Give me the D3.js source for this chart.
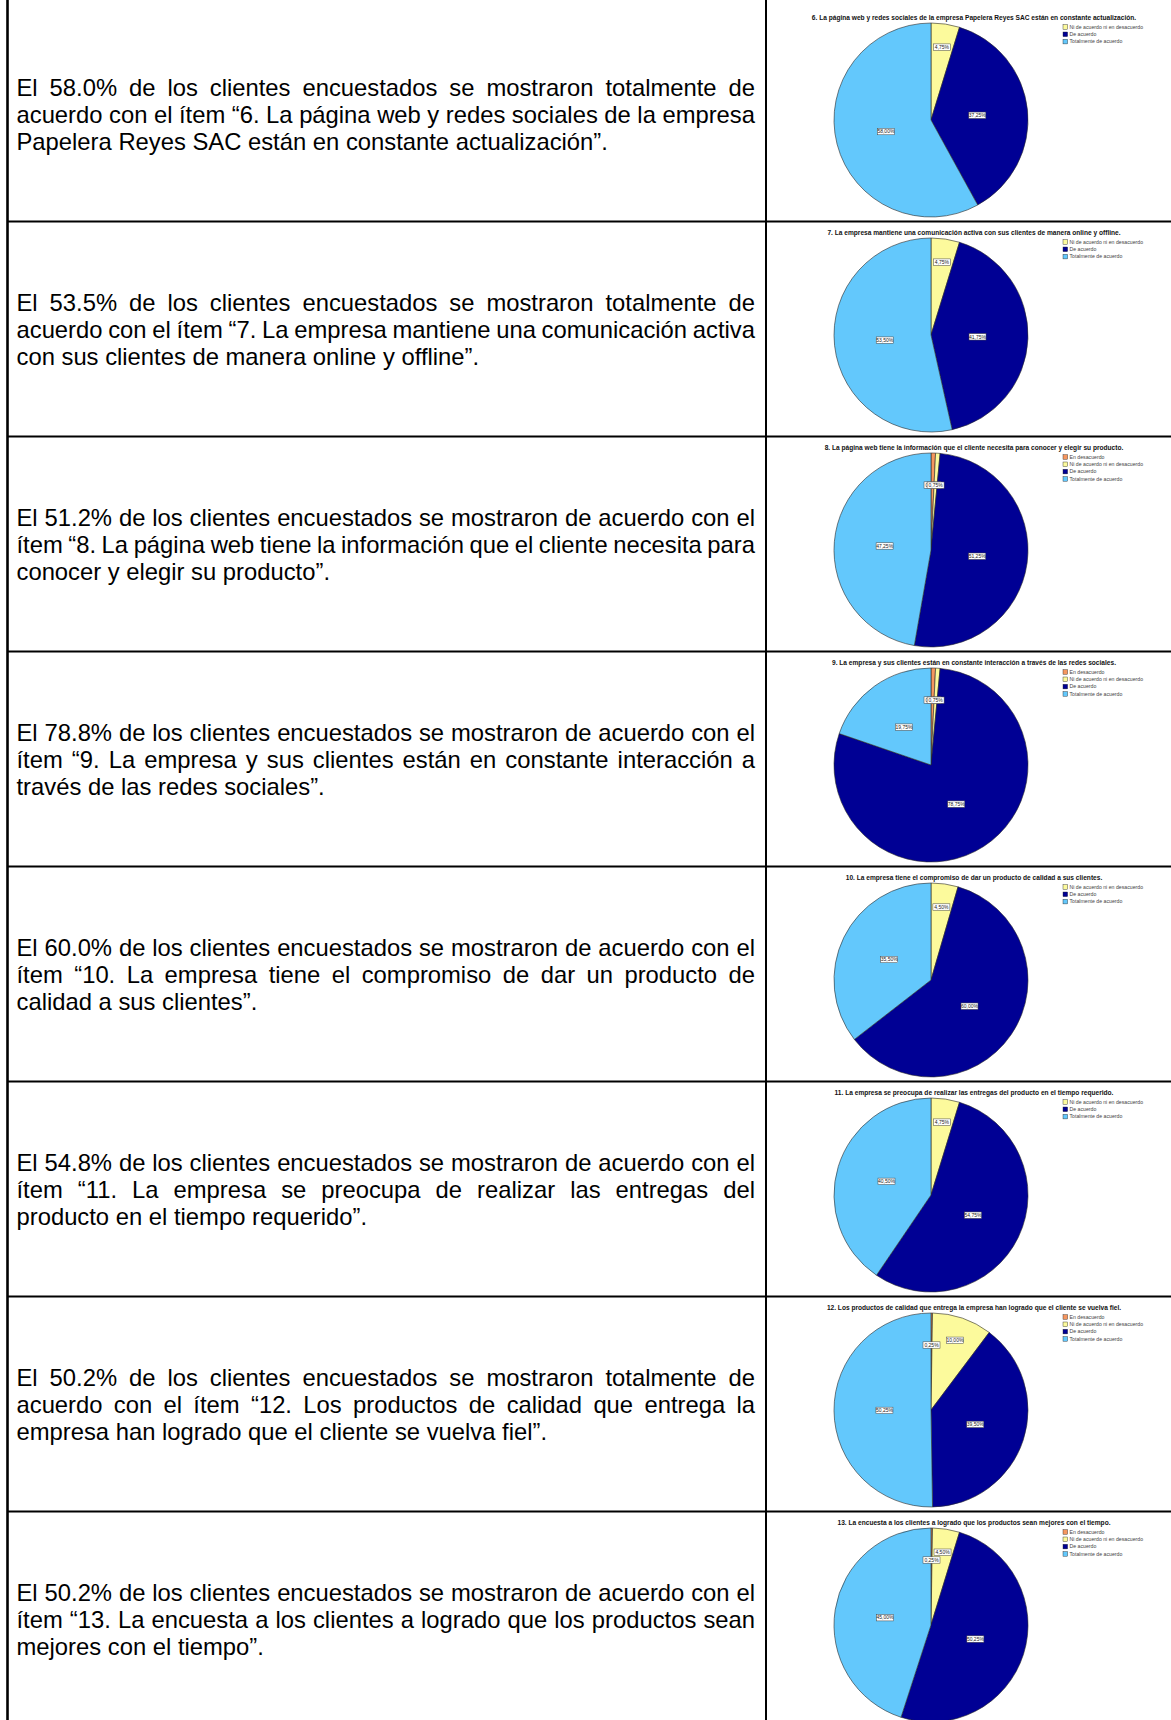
<!DOCTYPE html>
<html>
<head>
<meta charset="utf-8">
<script src="https://cdn.jsdelivr.net/npm/d3@7"></script>
<style>
  html, body { margin: 0; padding: 0; background: #fff; }
  svg { display: block; }
</style>
</head>
<body>
<svg id="page" width="1171" height="1720"></svg>
<script>
// Response categories (legend order = slice order, clockwise from 12 o'clock)
const categories = [
  "En desacuerdo",
  "Ni de acuerdo ni en desacuerdo",
  "De acuerdo",
  "Totalmente de acuerdo"
];

// Chart titles, one per survey item
const itemTitles = [
  "6. La página web y redes sociales de la empresa Papelera Reyes SAC están en constante actualización.",
  "7. La empresa mantiene una comunicación activa con sus clientes de manera online y offline.",
  "8. La página web tiene la información que el cliente necesita para conocer y elegir su producto.",
  "9. La empresa y sus clientes están en constante interacción a través de las redes sociales.",
  "10. La empresa tiene el compromiso de dar un producto de calidad a sus clientes.",
  "11. La empresa se preocupa de realizar las entregas del producto en el tiempo requerido.",
  "12. Los productos de calidad que entrega la empresa han logrado que el cliente se vuelva fiel.",
  "13. La encuesta a los clientes a logrado que los productos sean mejores con el tiempo."
];

// Percentage per category (null = category not chosen by anyone)
const item06 = [null, 4.75, 37.25, 58.00];
const item07 = [null, 4.75, 41.75, 53.50];
const item08 = [0.75, 0.75, 51.25, 47.25];
const item09 = [0.75, 0.75, 78.75, 19.75];
const item10 = [null, 4.50, 60.00, 35.50];
const item11 = [null, 4.75, 54.75, 40.50];
const item12 = [0.25, 10.00, 39.50, 50.25];
const item13 = [0.25, 4.50, 50.25, 45.00];
const itemSeries = [item06, item07, item08, item09, item10, item11, item12, item13];

// Interpretation paragraph for each item, one string per printed line
const paragraphs = [
  ["El 58.0% de los clientes encuestados se mostraron totalmente de",
   "acuerdo con el ítem “6. La página web y redes sociales de la empresa",
   "Papelera Reyes SAC están en constante actualización”."],
  ["El 53.5% de los clientes encuestados se mostraron totalmente de",
   "acuerdo con el ítem “7. La empresa mantiene una comunicación activa",
   "con sus clientes de manera online y offline”."],
  ["El 51.2% de los clientes encuestados se mostraron de acuerdo con el",
   "ítem “8. La página web tiene la información que el cliente necesita para",
   "conocer y elegir su producto”."],
  ["El 78.8% de los clientes encuestados se mostraron de acuerdo con el",
   "ítem “9. La empresa y sus clientes están en constante interacción a",
   "través de las redes sociales”."],
  ["El 60.0% de los clientes encuestados se mostraron de acuerdo con el",
   "ítem “10. La empresa tiene el compromiso de dar un producto de",
   "calidad a sus clientes”."],
  ["El 54.8% de los clientes encuestados se mostraron de acuerdo con el",
   "ítem “11. La empresa se preocupa de realizar las entregas del",
   "producto en el tiempo requerido”."],
  ["El 50.2% de los clientes encuestados se mostraron totalmente de",
   "acuerdo con el ítem “12. Los productos de calidad que entrega la",
   "empresa han logrado que el cliente se vuelva fiel”."],
  ["El 50.2% de los clientes encuestados se mostraron de acuerdo con el",
   "ítem “13. La encuesta a los clientes a logrado que los productos sean",
   "mejores con el tiempo”."]
];

// ---------- drawing ----------
const W = 1171, H = 1720;
const FONT = "'Liberation Sans', Arial, Helvetica, sans-serif";
const svg = d3.select("#page");
svg.append("rect").attr("width", W).attr("height", H).attr("fill", "#fff");

const color = d3.scaleOrdinal()
  .domain(categories)
  .range(["#F5965F", "#FCFA9C", "#000094", "#63C8FC"]);

const nRows = itemSeries.length;
const rowH = 215;
const rowY = d3.scaleLinear().domain([0, nRows]).range([6.5, 6.5 + rowH * nRows]);

const colLeft = 7.5, colMid = 766;
const textX0 = 16.5, textX1 = 755;
const textSize = 23.8, lineGap = 27.4;

const pieCx = 931, pieR = 97;
const pct = v => d3.format(".2f")(v).replace(".", ",") + "%";

// measuring helper
const meas = svg.append("text")
  .attr("font-family", FONT).attr("font-size", textSize)
  .attr("x", -1000).attr("y", -1000);
function wordWidth(s) { meas.text(s); return meas.node().getComputedTextLength(); }

const rows = svg.selectAll("g.row").data(d3.range(nRows)).join("g").attr("class", "row");

// justified paragraph text in the left column
rows.each(function(i) {
  const g = d3.select(this);
  const top = rowY(i);
  paragraphs[i].forEach((line, j) => {
    const y = top + 89 + j * lineGap;
    const t = g.append("text")
      .attr("font-family", FONT).attr("font-size", textSize)
      .attr("fill", "#000").attr("y", y);
    const words = line.split(" ");
    const isLast = j === paragraphs[i].length - 1;
    const widths = words.map(wordWidth);
    const spaceW = wordWidth("a a") - wordWidth("aa");
    const gap = isLast || words.length < 2
      ? spaceW
      : (textX1 - textX0 - d3.sum(widths)) / (words.length - 1);
    let x = textX0;
    words.forEach((w, k) => {
      t.append("tspan").attr("x", x).text(w);
      x += widths[k] + gap;
    });
  });
});
meas.remove();

// pie charts in the right column
const pie = d3.pie().sort(null).value(d => d.v).startAngle(0).endAngle(2 * Math.PI);
const arc = d3.arc().innerRadius(0).outerRadius(pieR);

rows.each(function(i) {
  const g = d3.select(this);
  const top = rowY(i);
  const cy = top + 113.5;
  const entries = categories
    .map((c, k) => ({ c, v: itemSeries[i][k] }))
    .filter(d => d.v != null);

  // title
  g.append("text")
    .attr("x", 974).attr("y", top + 13.5)
    .attr("text-anchor", "middle")
    .attr("font-family", FONT).attr("font-weight", "bold")
    .attr("font-size", 6.6).attr("fill", "#111")
    .text(itemTitles[i]);

  // slices
  const pg = g.append("g").attr("transform", `translate(${pieCx},${cy})`);
  const arcs = pie(entries);
  pg.selectAll("path").data(arcs).join("path")
    .attr("d", arc)
    .attr("fill", d => color(d.data.c))
    .attr("stroke", "#2a2a2a").attr("stroke-width", 0.6)
    .attr("stroke-linejoin", "round");

  // value labels
  const lab = pg.selectAll("g.lab").data(arcs).join("g").attr("class", "lab")
    .attr("transform", d => {
      const f = d.data.v < 1 ? 0.67 : (d.data.v < 12 ? 0.76 : 0.48);
      const a = (d.startAngle + d.endAngle) / 2;
      return `translate(${Math.sin(a) * pieR * f},${-Math.cos(a) * pieR * f})`;
    });
  lab.append("rect")
    .attr("x", -8.5).attr("y", -3.2).attr("width", 17).attr("height", 6.4)
    .attr("fill", "#fff").attr("stroke", "#444").attr("stroke-width", 0.5);
  lab.append("text")
    .attr("text-anchor", "middle").attr("dy", "0.35em")
    .attr("font-family", FONT).attr("font-size", 5)
    .attr("fill", "#222")
    .text(d => pct(d.data.v));

  // legend
  const lg = g.append("g").attr("transform", `translate(1063,${top + 20.5})`);
  const li = lg.selectAll("g").data(entries).join("g")
    .attr("transform", (d, k) => `translate(0,${k * 7.3})`);
  li.append("rect")
    .attr("x", 0).attr("y", -2.3).attr("width", 4.6).attr("height", 4.6)
    .attr("fill", d => color(d.c)).attr("stroke", "#222").attr("stroke-width", 0.4);
  li.append("text")
    .attr("x", 6.5).attr("dy", "0.35em")
    .attr("font-family", FONT).attr("font-size", 5.2).attr("fill", "#444")
    .text(d => d.c);
});

// table rules
const rules = svg.append("g").attr("stroke", "#000");
rules.append("line")
  .attr("x1", colLeft).attr("x2", colLeft).attr("y1", 0).attr("y2", H)
  .attr("stroke-width", 2.6);
rules.append("line")
  .attr("x1", colMid).attr("x2", colMid).attr("y1", 0).attr("y2", H)
  .attr("stroke-width", 2);
rules.selectAll("line.h").data(d3.range(1, nRows)).join("line")
  .attr("class", "h")
  .attr("x1", colLeft).attr("x2", W)
  .attr("y1", d => rowY(d)).attr("y2", d => rowY(d))
  .attr("stroke-width", 2);
</script>
</body>
</html>
